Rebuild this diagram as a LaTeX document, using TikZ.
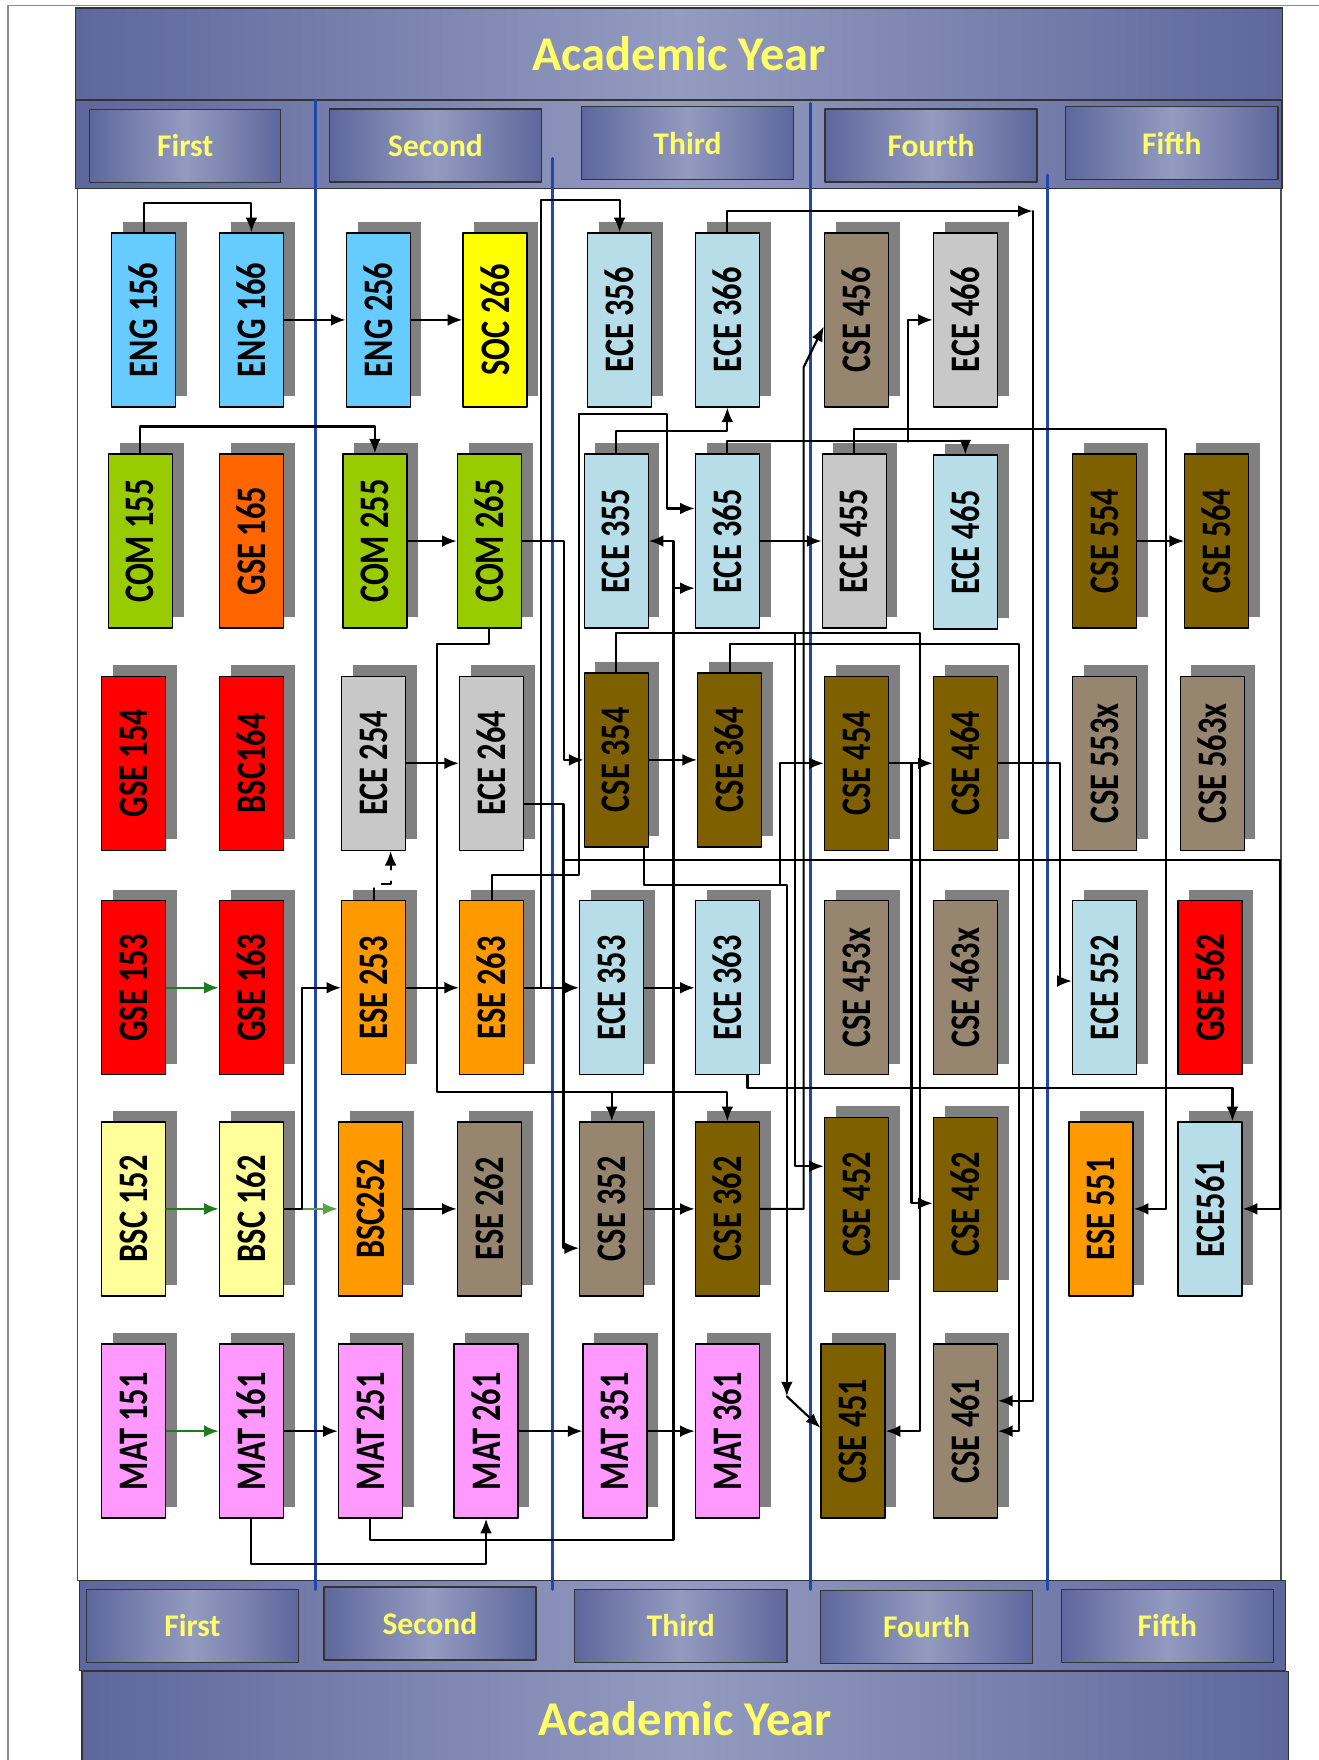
\documentclass[tikz,border=0pt]{standalone}
\usepackage{fontspec}
\setmainfont{Carlito}
\usetikzlibrary{arrows.meta,shadows}

\definecolor{engblue}{HTML}{66CCFF}
\definecolor{socyellow}{HTML}{FFFF00}
\definecolor{eceblue}{HTML}{B7DEE8}
\definecolor{csetan}{HTML}{968670}
\definecolor{ecegray}{HTML}{C8C8C8}
\definecolor{comgreen}{HTML}{99CC00}
\definecolor{gseorange}{HTML}{FF6600}
\definecolor{csedark}{HTML}{7F6000}
\definecolor{gsered}{HTML}{FF0000}
\definecolor{eseorange}{HTML}{FF9900}
\definecolor{bscyellow}{HTML}{FFFF99}
\definecolor{matpink}{HTML}{FF99FF}
\definecolor{shadowgray}{HTML}{808080}
\definecolor{arrgreen}{HTML}{1E7B1E}
\definecolor{arrlightgreen}{HTML}{5F9E4A}
\definecolor{divblue}{HTML}{1F48A8}
\definecolor{bandedge}{RGB}{94,103,156}
\definecolor{bandmid}{RGB}{148,155,192}
\definecolor{yeartext}{HTML}{FFFF66}

\newcommand{\crs}[1]{\rotatebox{90}{\scalebox{1}[1.3]{#1}}}

\begin{document}
\begin{tikzpicture}[x=0.1mm, y=-0.1mm, line cap=round, line join=round,
  course/.style={draw=black, line width=0.12mm, minimum width=5.7mm, minimum height=15.5mm,
    inner sep=0pt, font=\bfseries\fontsize{8.2}{9}\selectfont,
    drop shadow={shadow xshift=1mm, shadow yshift=1mm, fill=shadowgray, opacity=1}},
  arr/.style={-{Latex[length=1.3mm,width=1.05mm]}, line width=0.19mm},
  garr/.style={arr, draw=arrgreen, fill=arrgreen},
  band/.style={draw=black!80, line width=0.12mm, left color=bandedge, right color=bandedge, middle color=bandmid},
  banner/.style={band, text=yeartext, inner sep=0pt, font=\bfseries\fontsize{12.3}{14}\selectfont},
  yearbox/.style={band, text=yeartext, inner sep=0pt, minimum width=18.9mm, minimum height=6.5mm,
    font=\bfseries\fontsize{8}{9}\selectfont},
  divider/.style={draw=divblue, line width=0.25mm}]

  \useasboundingbox (0,0) rectangle (1175,1568);

  % page edge
  \draw[black!45, line width=0.15mm] (7,1568) -- (7,5) -- (1175,5);

  % body frame
  \draw[black!70, line width=0.14mm] (69,168) rectangle (1141,1408);

  % header and footer bands
  \node[banner, minimum width=107.5mm, minimum height=8.2mm] (topyear) at (605,48) {Academic Year};
  \draw[band] (67,89) rectangle (1142,168);
  \draw[band] (71,1408) rectangle (1145,1488);
  \node[banner, minimum width=107.5mm, minimum height=8.4mm] (botyear) at (610.5,1531) {Academic Year};

  % year dividers
  \draw[divider] (281,89) -- (281,1416);
  \draw[divider] (492,141) -- (492,1416);
  \draw[divider] (722,92) -- (722,1416);
  \draw[divider] (933,156) -- (933,1416);

  % year labels
  \node[yearbox, minimum width=17mm] (top1) at (165,130) {First};
  \foreach \px/\py/\nm/\txt in {388/129.5/top2/Second, 612.5/127.5/top3/Third,
      829.5/129.5/top4/Fourth, 1044/127.5/top5/Fifth,
      171.5/1448.5/bot1/First, 383/1446.5/bot2/Second, 606.5/1448.5/bot3/Third,
      825.5/1449.5/bot4/Fourth, 1040/1448.5/bot5/Fifth}
    \node[yearbox] (\nm) at (\px,\py) {\txt};

  % courses
  \foreach \px/\py/\nm/\clr/\txt in {
      128/285/eng156/engblue/ENG 156, 224/285/eng166/engblue/ENG 166,
      337/285/eng256/engblue/ENG 256, 441/285/soc266/socyellow/SOC 266,
      552/285/ece356/eceblue/ECE 356, 648/285/ece366/eceblue/ECE 366,
      763/285/cse456/csetan/CSE 456, 860/285/ece466/ecegray/ECE 466,
      125/482/com155/comgreen/COM 155, 224/482/gse165/gseorange/GSE 165,
      334/482/com255/comgreen/COM 255, 436/482/com265/comgreen/COM 265,
      549/482/ece355/eceblue/ECE 355, 648/482/ece365/eceblue/ECE 365,
      761/482/ece455/ecegray/ECE 455, 860/483/ece465/eceblue/ECE 465,
      984/482/cse554/csedark/CSE 554, 1084/482/cse564/csedark/CSE 564,
      119/680/gse154/gsered/GSE 154, 224/680/bsc164/gsered/BSC164,
      333/680/ece254/ecegray/ECE 254, 438/680/ece264/ecegray/ECE 264,
      549/677/cse354/csedark/CSE 354, 650/677/cse364/csedark/CSE 364,
      763/680/cse454/csedark/CSE 454, 860/680/cse464/csedark/CSE 464,
      984/680/cse553x/csetan/CSE 553x, 1080/680/cse563x/csetan/CSE 563x,
      119/880/gse153/gsered/GSE 153, 224/880/gse163/gsered/GSE 163,
      333/880/ese253/eseorange/ESE 253, 438/880/ese263/eseorange/ESE 263,
      545/880/ece353/eceblue/ECE 353, 648/880/ece363/eceblue/ECE 363,
      763/880/cse453x/csetan/CSE 453x, 860/880/cse463x/csetan/CSE 463x,
      984/880/ece552/eceblue/ECE 552, 1078/880/gse562/gsered/GSE 562,
      119/1077/bsc152/bscyellow/BSC 152, 224/1077/bsc162/bscyellow/BSC 162,
      330/1077/bsc252/eseorange/BSC252, 436/1077/ese262/csetan/ESE 262,
      545/1077/cse352/csetan/CSE 352, 648/1077/cse362/csedark/CSE 362,
      763/1073/cse452/csedark/CSE 452, 860/1073/cse462/csedark/CSE 462,
      981/1077/ese551/eseorange/ESE 551, 1078/1077/ece561/eceblue/ECE561,
      119/1275/mat151/matpink/MAT 151, 224/1275/mat161/matpink/MAT 161,
      330/1275/mat251/matpink/MAT 251, 433/1275/mat261/matpink/MAT 261,
      548/1275/mat351/matpink/MAT 351, 648/1275/mat361/matpink/MAT 361,
      760/1275/cse451/csedark/CSE 451, 860/1275/cse461/csetan/CSE 461}
    \node[course, fill=\clr] (\nm) at (\px,\py) {\crs{\txt}};

  % junctions
  \coordinate (j482) at (482,880);
  \coordinate (j524) at (600,524);
  \coordinate (j695) at (695,787.5);
  \coordinate (j708) at (708,564.5);
  \coordinate (j766) at (502,766);
  \coordinate (j809) at (809,393.5);
  \coordinate (j812) at (812,680);
  \coordinate (j920) at (920,188);
  \coordinate (j973) at (545,973);
  \coordinate (j701) at (701,1244);

  % first and second year
  \draw[arr] (eng156.north) -- ++(0,-26) -| (eng166.north);
  \draw[arr] (eng166.east) -- (eng256.west);
  \draw[arr] (eng256.east) -- (soc266.west);
  \draw[arr] (com155.north) -- ++(0,-24) -| (com255.north);
  \draw[arr] (com255.east) -- (com265.west);
  \draw[garr] (gse153.east) -- (gse163.west);
  \draw[garr] (bsc152.east) -- (bsc162.west);
  \draw[garr, draw=arrlightgreen, fill=arrlightgreen] (bsc162.east) -- (bsc252.west);
  \draw[garr] (mat151.east) -- (mat161.west);
  \draw[arr] (bsc162.east) -- ++(16,0) |- (ese253.west);
  \draw[arr] (mat161.east) -- (mat251.west);
  \draw[arr] (mat161.south) -- ++(0,40) -| (mat261.south);
  \draw[arr] (ece254.east) -- (ece264.west);
  \draw[arr, dashed] (ese253.north) -- ++(0,-14) -| ([xshift=1.5mm]ece254.south);
  \draw[arr] (ese253.east) -- (ese263.west);
  \draw[arr] (bsc252.east) -- (ese262.west);
  \draw[arr] (mat261.east) -- (mat351.west);

  % into third year
  \draw[arr] (com265.east) -- ++(37,0) |- (cse354.west);
  \draw[arr] (com265.south) -- ++(0,14) -| (389,973) -| (cse362.north);
  \draw[arr] (j973) -- (cse352.north);
  \draw[arr] ([yshift=-3.6mm]ece264.east) -| (502,1112) -- (cse352.west |- 0,1112);
  \draw[arr] (j766) -- (1140,766) |- (ece561.east);
  \draw[arr] (ese263.north) -- ++(0,-22) -| (516,369) -| (594,453) -- (ece365.west |- 0,453);
  \draw[arr] (ese263.east) -- (ece353.west);
  \draw[arr] (j482) -- (482,178) -| (ece356.north);
  \draw[arr] (mat251.south) -- ++(0,19) -| (600,600) |- (ece355.east);
  \draw[arr] (j524) -- (ece365.west |- j524);

  % third year
  \draw[arr] (ece355.north) -- ++(0,-20) -| (ece366.south);
  \draw[arr] (cse354.east) -- (cse364.west);
  \draw[arr] (ece353.east) -- (ece363.west);
  \draw[arr] (cse352.east) -- (cse362.west);
  \draw[arr] (mat351.east) -- (mat361.west);

  % into fourth and fifth year
  \draw[arr] (ece366.north) |- (j920);
  \draw[arr] (j920) |- (cse461.east |- 0,1248);
  \draw[arr] (ece365.north) -- ++(0,-11) -| (ece465.north);
  \draw[arr] (j809) |- (ece466.west);
  \draw[arr] (ece365.east) -- (ece455.west);
  \draw[arr] (cse362.east) -| (716,327) -- (cse456.west |- 0,291);
  \draw[arr] (cse354.north) -- ++(0,-35) -| (820,1000) |- (cse451.east);
  \draw[arr] (j708) |- (cse452.west |- 0,1039);
  \draw[arr] ([xshift=2.5mm]cse354.south) -- ++(0,33) -| (j701);
  \draw[arr] (j701) -- (cse451.west |- 0,1272);
  \draw[arr] (j695) |- (cse454.west);
  \draw[arr] (cse364.north) -- ++(0,-25) -| (908,1000) |- (cse461.east);
  \draw[arr] (ece363.south -| 666,0) -- ++(0,11) -| ([xshift=2mm]ece561.north);

  % fourth and fifth year
  \draw[arr] (cse454.east) -- (cse464.west);
  \draw[arr] (j812) |- (cse462.west |- 0,1072);
  \draw[arr] (cse464.east) -- ++(55,0) |- (ece552.west |- 0,874);
  \draw[arr] (ece455.north) -- ++(0,-22) -| (1039,900) |- (ese551.east);
  \draw[arr] (cse554.east) -- (cse564.west);
\end{tikzpicture}
\end{document}
